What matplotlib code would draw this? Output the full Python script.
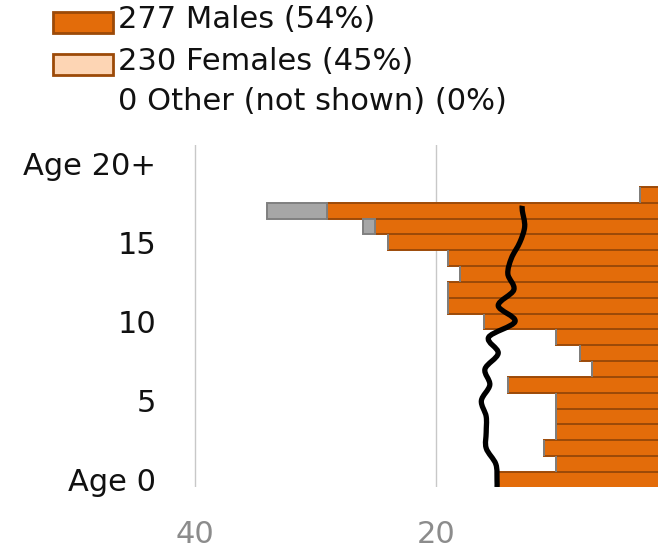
import numpy as np
import matplotlib.pyplot as plt
from matplotlib.patches import Rectangle, PathPatch
from matplotlib.path import Path

plt.rcParams['font.family'] = ['DejaVu Sans']

ages = np.arange(0, 21)
males = [15, 10, 11, 10, 10, 10, 14, 7, 8, 10, 16, 19, 19, 18, 19, 24, 25, 29, 3, 0, 0]
grey_extra = [0, 0, 0, 0, 0, 0, 0, 0, 0, 0, 0, 0, 0, 0, 0, 0, 1, 5, 0, 0, 0]
line_age = [-0.45, 0, 1, 2, 3, 4, 5, 6, 7, 8, 9, 10, 11, 12, 13, 14, 15, 16, 17, 17.3]
line_val = [14.9, 14.9, 15.0, 15.8, 15.8, 15.8, 16.2, 15.5, 15.9, 14.8, 15.6, 13.4, 14.8, 13.5, 14.0, 13.7, 13.0, 12.6, 12.8, 12.8]
ytick_pos = [0, 5, 10, 15, 20]
ytick_lab = ['Age 0', '5', '10', '15', 'Age 20+']
legend_labels = ['277 Males (54%)', '230 Females (45%)', '0 Other (not shown) (0%)']

W, H = 658, 549
fig = plt.figure(figsize=(W / 100, H / 100), dpi=100)
ax = fig.add_axes([170 / W, (H - 487) / H, (W - 170) / W, (487 - 145) / H])

orange = '#E36C0A'
edge = '#9C4A08'
ax.barh(ages, males, height=1.0, color=orange, edgecolor=edge, linewidth=1.4, zorder=2)
ax.barh(ages, grey_extra, left=males, height=1.0, color='#A6A6A6', edgecolor='#7F7F7F',
        linewidth=1.4, zorder=2)

# smooth line (catmull-rom -> bezier through the read points)
pts = np.column_stack([line_val, line_age])
verts = [pts[0]]
codes = [Path.MOVETO]
for i in range(len(pts) - 1):
    p0 = pts[max(i - 1, 0)]
    p1 = pts[i]
    p2 = pts[i + 1]
    p3 = pts[min(i + 2, len(pts) - 1)]
    verts += [p1 + (p2 - p0) / 6, p2 - (p3 - p1) / 6, p2]
    codes += [Path.CURVE4] * 3
ax.add_patch(PathPatch(Path(verts, codes), facecolor='none', edgecolor='black',
                       linewidth=3.8, capstyle='butt', joinstyle='round', zorder=3))

ax.set_xticks([40, 20])
ax.set_xticklabels(['40', '20'])
ax.set_yticks(ytick_pos)
ax.set_yticklabels(ytick_lab)
ax.set_xlim(42.08, 1.52)
ax.set_ylim(-0.45, 21.14)
ax.grid(axis='x', color='#C8C8C8', linewidth=1.0, zorder=0)
ax.set_axisbelow(True)
for s in ax.spines.values():
    s.set_visible(False)
ax.tick_params(axis='y', length=0, pad=10, labelsize=22, labelcolor='#111111')
ax.tick_params(axis='x', length=0, pad=24, labelsize=22, labelcolor='#8C8C8C')

# legend
rows_y = [20, 62, 102]
for i, lab in enumerate(legend_labels):
    if i == 0:
        fig.add_artist(Rectangle((53 / W, 1 - 33 / H), 60 / W, 21 / H, transform=fig.transFigure,
                                 facecolor=orange, edgecolor=edge, linewidth=2))
    elif i == 1:
        fig.add_artist(Rectangle((53 / W, 1 - 75 / H), 60 / W, 21 / H, transform=fig.transFigure,
                                 facecolor='#FDD5B4', edgecolor=edge, linewidth=2))
    fig.text(118 / W, 1 - rows_y[i] / H, lab, fontsize=22, color='#111111', va='center', ha='left')

fig.savefig('out.png', dpi=100)
